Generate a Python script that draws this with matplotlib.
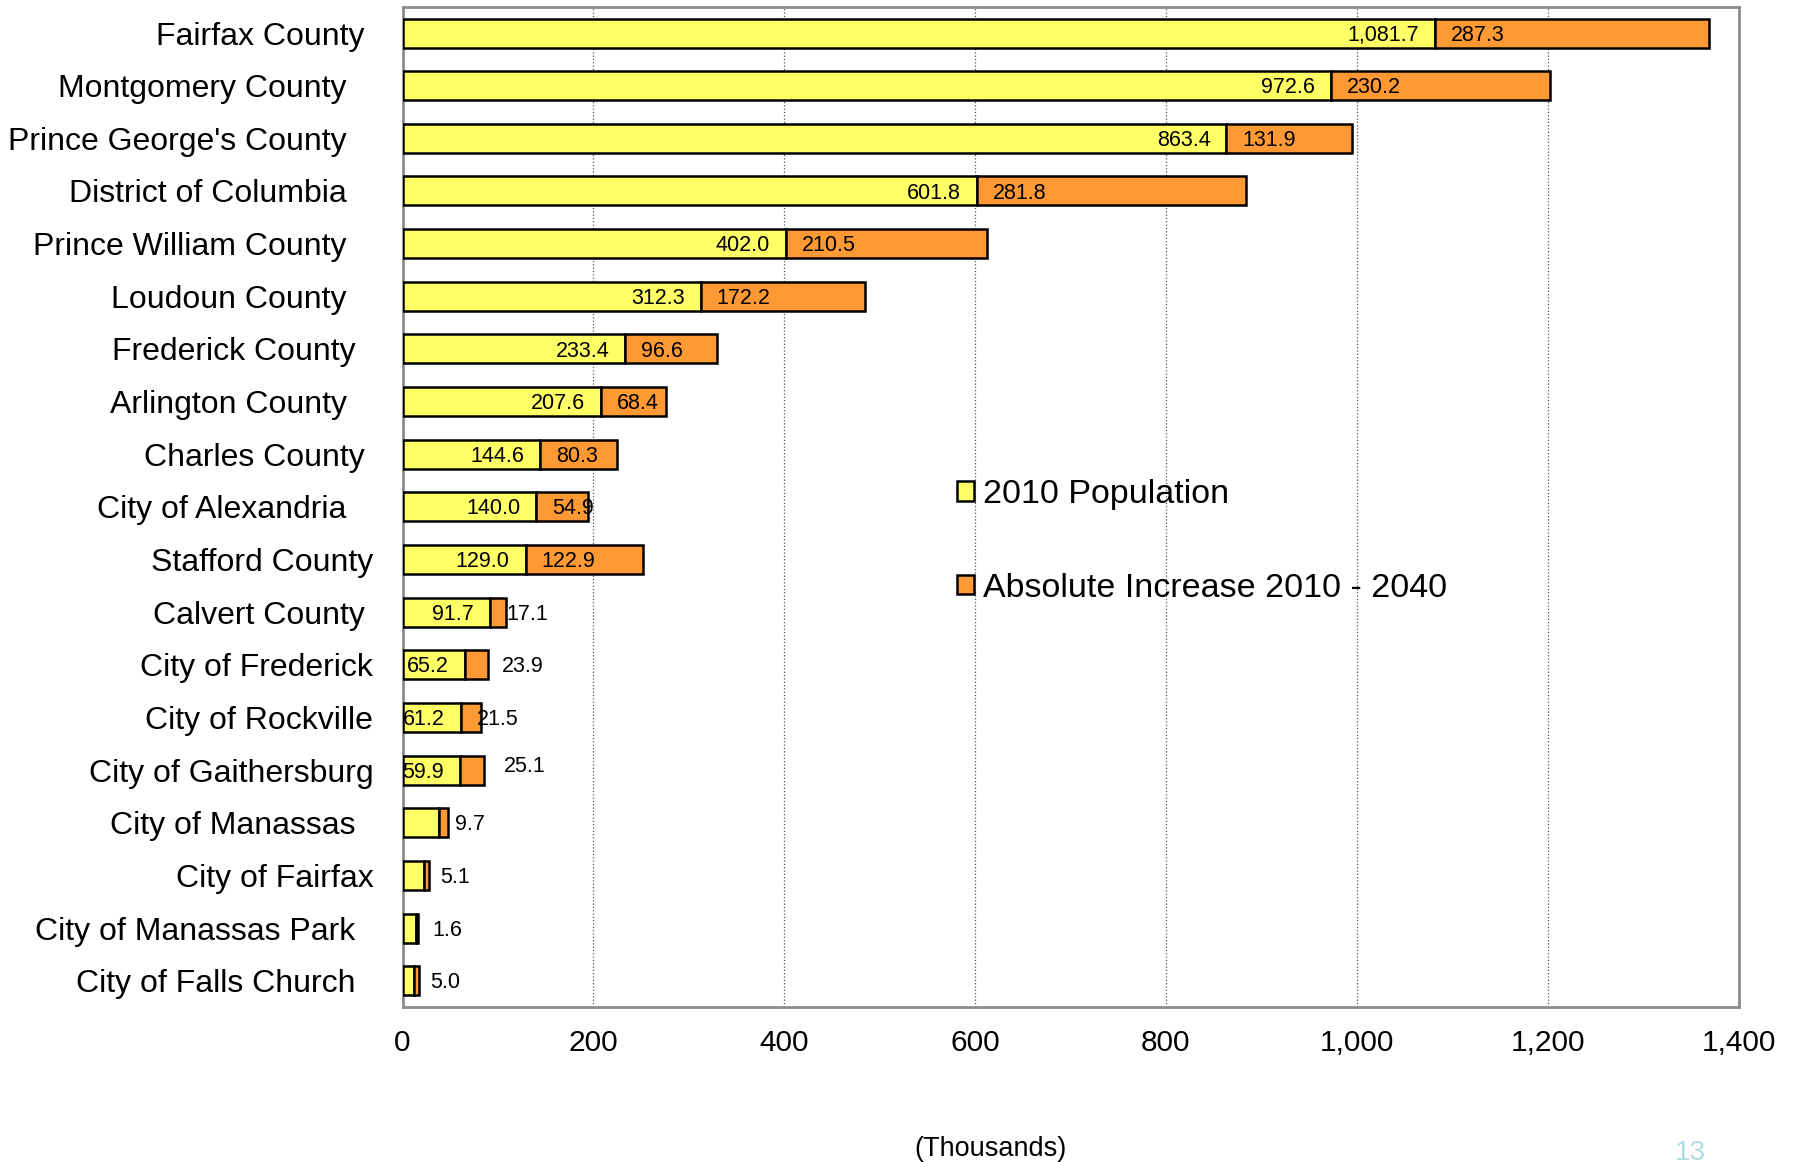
"""Horizontal stacked bar chart: 2010 population and absolute increase 2010-2040."""
import matplotlib
matplotlib.use("Agg")

import matplotlib.pyplot as plt
from matplotlib.ticker import FuncFormatter

plt.rcParams["font.family"] = ["Liberation Sans", "DejaVu Sans"]

# ---------------------------------------------------------------------------
# Data (thousands), top to bottom as drawn
# (trailing spaces mimic the ragged label alignment of the original slide)
# ---------------------------------------------------------------------------
jurisdictions = [
    "Fairfax County ", "Montgomery County   ", "Prince George's County   ",
    "District of Columbia   ", "Prince William County   ", "Loudoun County   ",
    "Frederick County  ", "Arlington County   ", "Charles County ",
    "City of Alexandria   ", "Stafford County", "Calvert County ",
    "City of Frederick", "City of Rockville", "City of Gaithersburg",
    "City of Manassas  ", "City of Fairfax", "City of Manassas Park  ",
    "City of Falls Church  ",
]
pop_2010 = [1081.7, 972.6, 863.4, 601.8, 402.0, 312.3, 233.4, 207.6, 144.6,
            140.0, 129.0, 91.7, 65.2, 61.2, 59.9, 37.8, 22.6, 14.3, 12.3]
increase = [287.3, 230.2, 131.9, 281.8, 210.5, 172.2, 96.6, 68.4, 80.3,
            54.9, 122.9, 17.1, 23.9, 21.5, 25.1, 9.7, 5.1, 1.6, 5.0]

YELLOW = "#FFFF66"
ORANGE = "#FF9933"

# hand-moved increase labels in the original: {row: (dx pt, dy pt)}
label_nudge = {12: (26.5, 0), 14: (31.5, 4)}

fig = plt.figure(figsize=(17.93, 11.62), dpi=100)
ax = fig.add_axes([402.5 / 1793, 1 - 1007 / 1162, 1336 / 1793, 1000.3 / 1162])

y = list(range(len(jurisdictions)))
bar_kw = dict(height=0.55, edgecolor="black", linewidth=1.8, zorder=3)
b1 = ax.barh(y, pop_2010, color=YELLOW, label="2010 Population", **bar_kw)
b2 = ax.barh(y, increase, left=pop_2010, color=ORANGE,
             label="Absolute Increase 2010 - 2040", **bar_kw)

# Value labels: population inside the end, increase just past the base
for i, (p, inc) in enumerate(zip(pop_2010, increase)):
    if p > 50:
        ax.annotate(f"{p:,.1f}", (p, i), xytext=(-11.5, -5.5), textcoords="offset points",
                    ha="right", va="baseline", fontsize=15.5, zorder=4)
    dx, dy = label_nudge.get(i, (11.5, 0))
    ax.annotate(f"{inc:,.1f}", (p, i), xytext=(dx, dy - 5.5), textcoords="offset points",
                ha="left", va="baseline", fontsize=15.5, zorder=4)

ax.set_xlim(0, 1400)
ax.set_ylim(len(jurisdictions) - 0.5, -0.5)
ax.set_xticks(range(0, 1401, 200))
ax.xaxis.set_major_formatter(FuncFormatter(lambda v, _: f"{v:,.0f}"))
ax.set_yticks(y)
ax.set_yticklabels(jurisdictions, fontsize=23)
ax.tick_params(axis="y", length=0, pad=21)
ax.tick_params(axis="x", length=0, pad=16, labelsize=21.5)

ax.grid(axis="x", color="#555555", linestyle=":", linewidth=0.9, zorder=0)
for side in ax.spines.values():
    side.set_color("#8c8c8c")
    side.set_linewidth(2)

ax.legend(handles=[b1, b2], loc="center left",
          bbox_to_anchor=(957 / 1793, 1 - 541.5 / 1162),
          bbox_transform=fig.transFigure, frameon=False, fontsize=24.5,
          handlelength=0.5, handleheight=0.5, handletextpad=0.25,
          labelspacing=1.84, borderpad=0, borderaxespad=0)

fig.text(990 / 1793, 1 - 1149 / 1162, "(Thousands)", ha="center", va="center",
         fontsize=19.5)
fig.text(1690 / 1793, 1 - 1153 / 1162, "13", ha="center", va="center",
         fontsize=20, color="#b0dce4")

fig.savefig("out.png", dpi=100)
plt.close(fig)
